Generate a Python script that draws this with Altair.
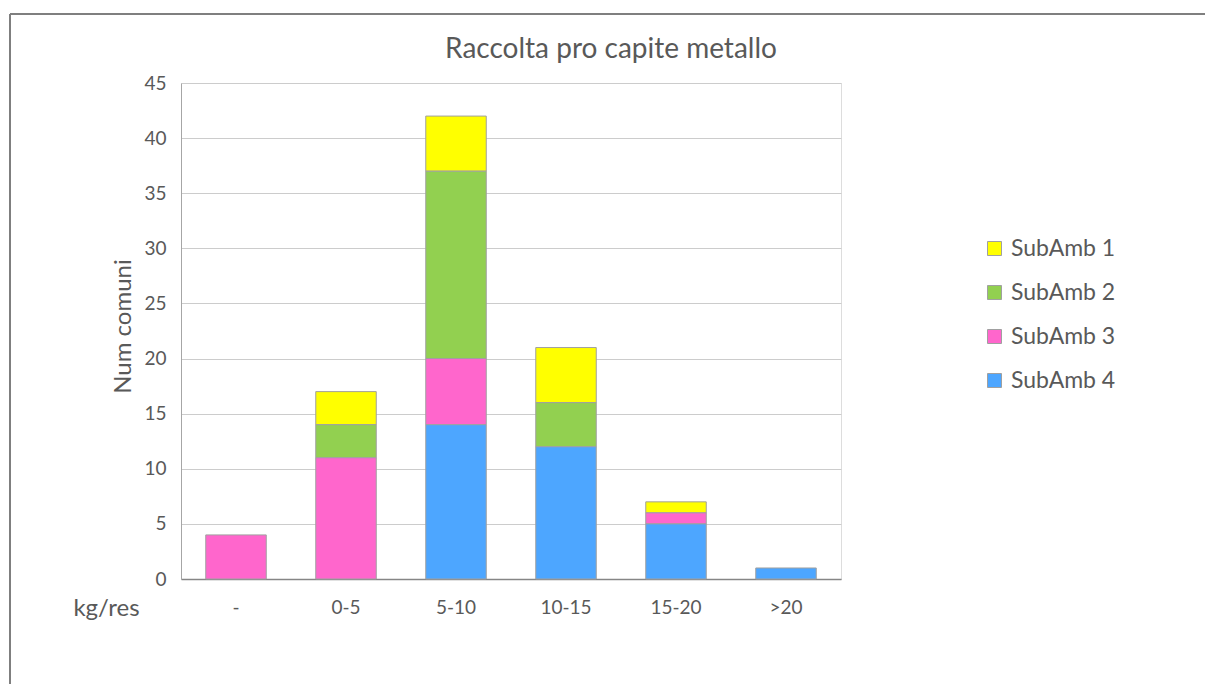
import altair as alt
import pandas as pd

# Classes of per-capita collection (kg per resident)
classes = ["-", "0-5", "5-10", "10-15", "15-20", ">20"]
series = ["SubAmb 1", "SubAmb 2", "SubAmb 3", "SubAmb 4"]
colors = ["#FFFF00", "#92D050", "#FF66CC", "#4DA6FF"]

# Number of municipalities per class, one list per sub-area
subamb1 = [0, 3, 5, 5, 1, 0]
subamb2 = [0, 3, 17, 4, 0, 0]
subamb3 = [4, 11, 6, 0, 1, 0]
subamb4 = [0, 0, 14, 12, 5, 1]

rows = []
for name, vals in zip(series, [subamb1, subamb2, subamb3, subamb4]):
    for cls, v in zip(classes, vals):
        if v > 0:
            rows.append({"classe": cls, "serie": name, "n": v,
                         "ordine": 4 - series.index(name)})
df = pd.DataFrame(rows)

W, H = 660, 496
LEFT, TOP = 181, 83
FONT = "Lato"
TXT = "#595959"

bars = alt.Chart(df).mark_bar(stroke="#a0a0a0", strokeWidth=1).encode(
    x=alt.X("classe:N", sort=classes,
            scale=alt.Scale(paddingInner=0.45, paddingOuter=0.225),
            axis=alt.Axis(title="kg/res", labelAngle=0, labelFontSize=19,
                          labelColor=TXT, labelFont=FONT, labelPadding=19,
                          ticks=False, domainColor="#868686", domainWidth=1.5,
                          titleFontSize=24, titleFont=FONT, titleColor=TXT,
                          titleFontWeight="normal", titleX=-75, titleY=29,
                          titleAlign="center", titleBaseline="middle")),
    y=alt.Y("n:Q", stack="zero",
            scale=alt.Scale(domain=[0, 45], nice=False),
            axis=alt.Axis(title="Num comuni", values=list(range(0, 50, 5)),
                          labelFontSize=19, labelColor=TXT, labelFont=FONT,
                          labelPadding=15, ticks=False,
                          domainColor="#a6a6a6", gridColor="#cccccc",
                          titleFontSize=24, titleFont=FONT, titleColor=TXT,
                          titleFontWeight="normal", titleX=-58, titleY=243,
                          titleAngle=-90, titleAlign="center",
                          titleBaseline="middle")),
    color=alt.Color("serie:N", sort=series,
                    scale=alt.Scale(domain=series, range=colors),
                    legend=alt.Legend(title=None, orient="none",
                                      legendX=802, legendY=154,
                                      symbolType="square", symbolSize=196,
                                      symbolStrokeColor="#a0a0a0",
                                      symbolStrokeWidth=1, symbolOpacity=1,
                                      labelFontSize=23, labelFont=FONT,
                                      labelColor=TXT, rowPadding=20,
                                      labelOffset=5)),
    order=alt.Order("ordine:Q"),
)

# Chart heading, placed over the plot area
heading = alt.Chart(alt.Data(values=[{"t": "Raccolta pro capite metallo"}])).mark_text(
    font=FONT, fontSize=28, color=TXT, align="center", baseline="alphabetic"
).encode(text="t:N", x=alt.value(611 - LEFT), y=alt.value(58 - TOP))

# Outer frame around the whole chart
frame_src = alt.Data(values=[{}])
frame_left = alt.Chart(frame_src).mark_rule(color="#7f7f7f", strokeWidth=2).encode(
    x=alt.value(10 - LEFT), y=alt.value(14 - TOP), y2=alt.value(720 - TOP))
frame_top = alt.Chart(frame_src).mark_rule(color="#7f7f7f", strokeWidth=2).encode(
    x=alt.value(10 - LEFT), x2=alt.value(1240 - LEFT), y=alt.value(14 - TOP))

chart = alt.layer(bars, heading, frame_left, frame_top).properties(
    width=W, height=H,
    autosize=alt.AutoSizeParams(type="none"),
    padding={"left": LEFT, "top": TOP, "right": 1205 - LEFT - W,
             "bottom": 684 - TOP - H},
).configure_view(stroke="#bfbfbf", strokeWidth=1).configure(background="white")

chart.save("out.html", embed_options={"renderer": "svg", "actions": False})
